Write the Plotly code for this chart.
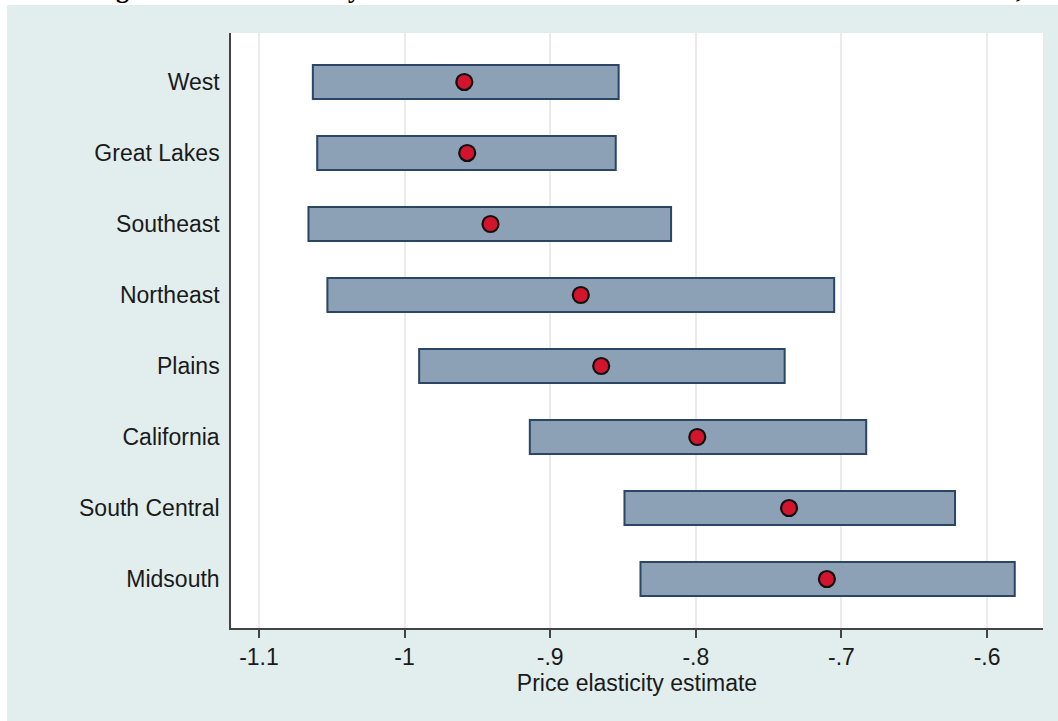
import plotly.graph_objects as go

regions = ["West", "Great Lakes", "Southeast", "Northeast", "Plains",
           "California", "South Central", "Midsouth"]
lower = [-1.063, -1.060, -1.066, -1.053, -0.990, -0.914, -0.849, -0.838]
upper = [-0.853, -0.855, -0.817, -0.705, -0.739, -0.683, -0.622, -0.581]
estimate = [-0.959, -0.957, -0.941, -0.879, -0.865, -0.799, -0.736, -0.710]

tick_vals = [-1.1, -1.0, -0.9, -0.8, -0.7, -0.6]
tick_text = ["-1.1", "-1", "-.9", "-.8", "-.7", "-.6"]

title_text = "Figure 3. Price elasticity estimates and confidence intervals in all the resource areas,"
x_title = "Price elasticity estimate"

W, H = 1058, 721
ML, MR, MT, MB = 231, 15, 33, 93
PW, PH = W - ML - MR, H - MT - MB

def px_x(px):
    return (px - ML) / PW

def px_y(py):
    return (H - MB - py) / PH

fig = go.Figure()

fig.add_trace(go.Bar(
    y=regions,
    x=[u - l for u, l in zip(upper, lower)],
    base=lower,
    orientation="h",
    width=0.48,
    marker=dict(color="#8ca0b6", line=dict(color="#2a4664", width=2)),
    showlegend=False,
    hoverinfo="skip",
))

fig.add_trace(go.Scatter(
    y=regions,
    x=estimate,
    mode="markers",
    marker=dict(size=16, color="#d2142d", line=dict(color="#111111", width=2.2)),
    showlegend=False,
))

font_family = "Liberation Sans, Arial, Helvetica, sans-serif"

fig.update_layout(
    width=W, height=H,
    margin=dict(l=ML, r=MR, t=MT, b=MB),
    paper_bgcolor="#e2eeee",
    plot_bgcolor="#ffffff",
    font=dict(family=font_family, size=23, color="#1a1a1a"),
    xaxis=dict(
        range=[-1.1192, -0.5616],
        tickvals=tick_vals,
        ticktext=tick_text,
        ticks="outside",
        ticklen=8,
        tickwidth=1.5,
        tickcolor="#444444",
        showline=True,
        linecolor="#444444",
        linewidth=1.5,
        showgrid=True,
        gridcolor="#e9ebec",
        gridwidth=2,
        zeroline=False,
        tickfont=dict(size=23),
        title=dict(text=x_title, font=dict(size=23), standoff=5),
    ),
    yaxis=dict(
        categoryorder="array",
        categoryarray=regions,
        range=[7.69, -0.69],
        showline=True,
        linecolor="#444444",
        linewidth=1.5,
        showgrid=False,
        zeroline=False,
        ticks="",
        ticklabelstandoff=5,
        tickfont=dict(size=23),
    ),
    shapes=[
        dict(type="rect", xref="paper", yref="paper", layer="below",
             x0=px_x(-20), x1=px_x(7), y0=px_y(H + 20), y1=px_y(-20),
             fillcolor="#ffffff", line=dict(width=0)),
        dict(type="rect", xref="paper", yref="paper", layer="below",
             x0=px_x(-20), x1=px_x(W + 20), y0=px_y(5), y1=px_y(-20),
             fillcolor="#ffffff", line=dict(width=0)),
    ],
    annotations=[
        dict(text="<b>" + title_text + "</b>", xref="paper", yref="paper",
             x=px_x(91), y=px_y(-10.5), xanchor="left", yanchor="middle",
             showarrow=False,
             font=dict(family="Liberation Serif, Times New Roman, serif",
                       size=26, color="#000000")),
    ],
)

fig.write_html("out.html")
